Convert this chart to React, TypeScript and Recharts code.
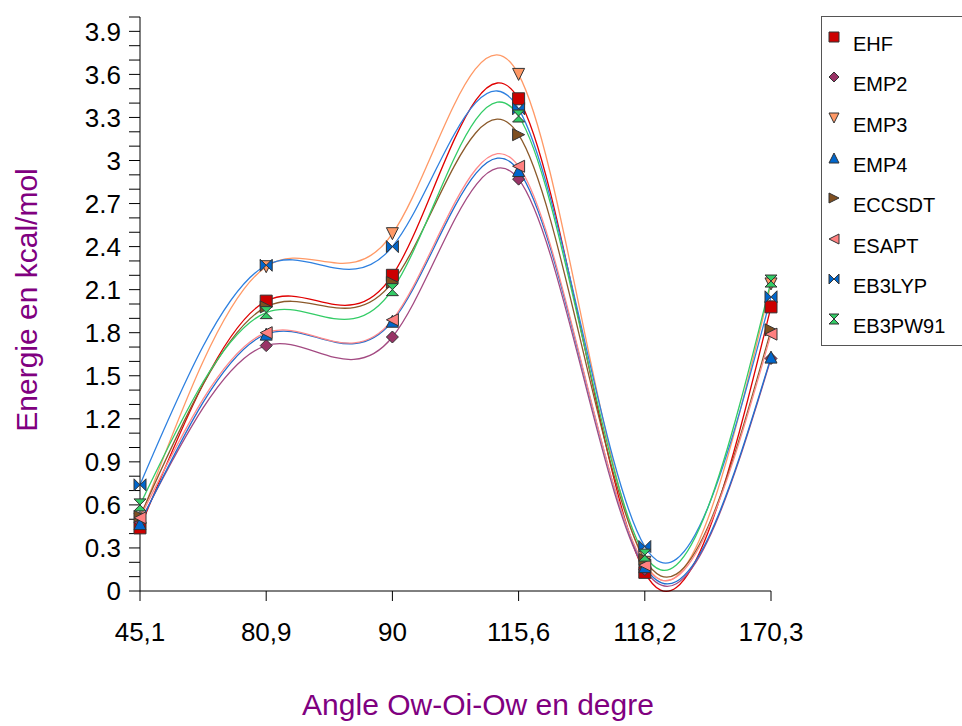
import React from 'react';
import { LineChart, Line, XAxis, YAxis, Label } from 'recharts';

// angles (degrees) on the x axis
const angles = ['45,1', '80,9', '90', '115,6', '118,2', '170,3'];

// energies in kcal/mol, one list per method
const ehf = [0.44, 2.02, 2.2, 3.43, 0.13, 1.98];
const emp2 = [0.48, 1.71, 1.77, 2.87, 0.15, 1.62];
const emp3 = [0.5, 2.26, 2.49, 3.6, 0.2, 2.14];
const emp4 = [0.47, 1.79, 1.88, 2.93, 0.17, 1.63];
const eccsdt = [0.52, 1.98, 2.15, 3.18, 0.22, 1.82];
const esapt = [0.51, 1.8, 1.89, 2.96, 0.18, 1.79];
const eb3lyp = [0.74, 2.27, 2.4, 3.36, 0.31, 2.05];
const eb3pw91 = [0.6, 1.94, 2.1, 3.31, 0.25, 2.16];

const yTicks = [
  0, 0.1, 0.2, 0.3, 0.4, 0.5, 0.6, 0.7, 0.8, 0.9, 1, 1.1, 1.2, 1.3, 1.4, 1.5, 1.6, 1.7, 1.8, 1.9, 2,
  2.1, 2.2, 2.3, 2.4, 2.5, 2.6, 2.7, 2.8, 2.9, 3, 3.1, 3.2, 3.3, 3.4, 3.5, 3.6, 3.7, 3.8, 3.9, 4,
];

type Shape = 'square' | 'diamond' | 'down' | 'up' | 'right' | 'left' | 'bowtie' | 'hourglass';

const series: { name: string; values: number[]; line: string; fill: string; shape: Shape }[] = [
  { name: 'EHF', values: ehf, line: '#E00000', fill: '#CC0000', shape: 'square' },
  { name: 'EMP2', values: emp2, line: '#A34A82', fill: '#993366', shape: 'diamond' },
  { name: 'EMP3', values: emp3, line: '#FF9966', fill: '#FF9966', shape: 'down' },
  { name: 'EMP4', values: emp4, line: '#1F6FD0', fill: '#0066CC', shape: 'up' },
  { name: 'ECCSDT', values: eccsdt, line: '#8B5A2B', fill: '#7F4F20', shape: 'right' },
  { name: 'ESAPT', values: esapt, line: '#FF8A8A', fill: '#FF8080', shape: 'left' },
  { name: 'EB3LYP', values: eb3lyp, line: '#2E80E0', fill: '#0066CC', shape: 'bowtie' },
  { name: 'EB3PW91', values: eb3pw91, line: '#33CC66', fill: '#33CC66', shape: 'hourglass' },
];

const rows = angles.map((angle, i) => {
  const row: Record<string, number | string> = { angle };
  series.forEach((s) => {
    row[s.name] = s.values[i];
  });
  return row;
});

const FONT = '"Liberation Sans", Arial, sans-serif';
const PURPLE = '#800080';

const markerPath = (shape: Shape, cx: number, cy: number, r: number) => {
  switch (shape) {
    case 'square':
      return `M${cx - r},${cy - r}H${cx + r}V${cy + r}H${cx - r}Z`;
    case 'diamond':
      return `M${cx},${cy - r}L${cx + r},${cy}L${cx},${cy + r}L${cx - r},${cy}Z`;
    case 'down':
      return `M${cx - r},${cy - r}H${cx + r}L${cx},${cy + r}Z`;
    case 'up':
      return `M${cx - r},${cy + r}H${cx + r}L${cx},${cy - r}Z`;
    case 'right':
      return `M${cx - r},${cy - r}L${cx + r},${cy}L${cx - r},${cy + r}Z`;
    case 'left':
      return `M${cx + r},${cy - r}L${cx - r},${cy}L${cx + r},${cy + r}Z`;
    case 'bowtie':
      return `M${cx - r},${cy - r}L${cx},${cy}L${cx - r},${cy + r}Z M${cx + r},${cy - r}L${cx},${cy}L${cx + r},${cy + r}Z`;
    case 'hourglass':
      return `M${cx - r},${cy - r}H${cx + r}L${cx},${cy}Z M${cx - r},${cy + r}H${cx + r}L${cx},${cy}Z`;
  }
};

const Marker = ({ cx, cy, shape, fill, r = 6 }: { cx: number; cy: number; shape: Shape; fill: string; r?: number }) => (
  <path d={markerPath(shape, cx, cy, r)} fill={fill} stroke="#333" strokeWidth={1} />
);

const formatY = (v: number) => {
  const tenths = Math.round(v * 10);
  return tenths % 3 === 0 ? String(tenths / 10) : '';
};

const LegendBox = () => (
  <div
    style={{
      position: 'absolute',
      left: 821,
      top: 16,
      width: 150,
      height: 328,
      border: '1px solid #555',
      background: '#fff',
      fontFamily: FONT,
    }}
  >
    {series.map((s, i) => (
      <div key={s.name} style={{ position: 'absolute', left: 0, top: 10 + i * 40.3, height: 34, width: 150 }}>
        <svg width={24} height={20} style={{ position: 'absolute', left: 0, top: 2 }}>
          <Marker cx={12} cy={8} shape={s.shape} fill={s.fill} r={5} />
        </svg>
        <span style={{ position: 'absolute', left: 31, top: 5, fontSize: 20, color: '#000', lineHeight: '24px' }}>
          {s.name}
        </span>
      </div>
    ))}
  </div>
);

export default function App() {
  return (
    <div style={{ position: 'absolute', left: 0, top: 0, width: 962, height: 726, overflow: 'hidden', background: '#fff' }}>
      <LineChart width={962} height={726} data={rows} margin={{ top: 17, right: 191, bottom: 0, left: 0 }}>
        <XAxis
          dataKey="angle"
          height={135}
          stroke="#000"
          tickSize={10}
          tickMargin={22}
          tick={{ fill: '#000', fontSize: 26, fontFamily: FONT }}
          interval={0}
        >
          <Label
            content={() => (
              <text x={478} y={715} textAnchor="middle" fill={PURPLE} fontSize={30} fontFamily={FONT}>
                Angle Ow-Oi-Ow en degre
              </text>
            )}
          />
        </XAxis>
        <YAxis
          width={140}
          domain={[0, 4]}
          ticks={yTicks}
          interval={0}
          stroke="#000"
          tickSize={11}
          tickMargin={8}
          tickFormatter={formatY}
          tick={{ fill: '#000', fontSize: 26, fontFamily: FONT }}
        >
          <Label
            content={() => (
              <text
                transform="translate(37,300) rotate(-90)"
                textAnchor="middle"
                fill={PURPLE}
                fontSize={30}
                fontFamily={FONT}
              >
                Energie en kcal/mol
              </text>
            )}
          />
        </YAxis>
        {series.map((s) => (
          <Line
            key={s.name}
            type="natural"
            dataKey={s.name}
            stroke={s.line}
            strokeWidth={1.3}
            isAnimationActive={false}
            activeDot={false}
            dot={(p: any) => <Marker key={`${s.name}-${p.index}`} cx={p.cx} cy={p.cy} shape={s.shape} fill={s.fill} />}
          />
        ))}
      </LineChart>
      <LegendBox />
    </div>
  );
}
